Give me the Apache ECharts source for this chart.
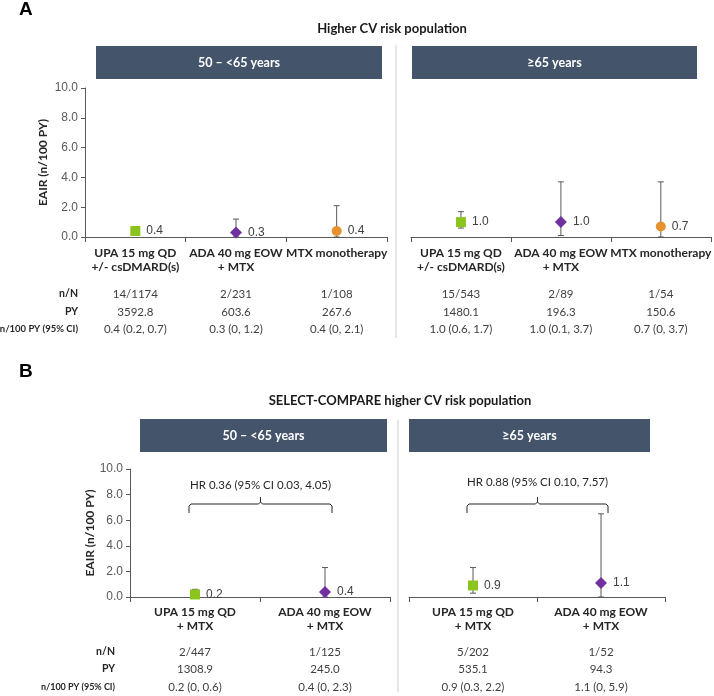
<!DOCTYPE html>
<html><head><meta charset="utf-8">
<script src="https://cdn.jsdelivr.net/npm/echarts@6/dist/echarts.min.js"></script>
<style>html,body{margin:0;padding:0;background:#fff}#c{width:714px;height:696px}</style>
</head><body><div id="c"></div>
<script>
// ---------- data ----------
const catsA = ['UPA 15 mg QD\n+/- csDMARD(s)', 'ADA 40 mg EOW\n+ MTX', 'MTX monotherapy'];
const catsB = ['UPA 15 mg QD\n+ MTX', 'ADA 40 mg EOW\n+ MTX'];
const yMin = 0, yMax = 10, yStep = 2;

const a1Value = [0.4, 0.3, 0.4];
const a1Low   = [0.2, 0.0, 0.0];
const a1High  = [0.7, 1.2, 2.1];
const a2Value = [1.0, 1.0, 0.7];
const a2Low   = [0.6, 0.1, 0.0];
const a2High  = [1.7, 3.7, 3.7];
const b1Value = [0.2, 0.4];
const b1Low   = [0.0, 0.0];
const b1High  = [0.6, 2.3];
const b2Value = [0.9, 1.1];
const b2Low   = [0.3, 0.0];
const b2High  = [2.3, 6.5];

const a1nN = ['14/1174', '2/231', '1/108'];
const a1PY = ['3592.8', '603.6', '267.6'];
const a1CI = ['0.4 (0.2, 0.7)', '0.3 (0, 1.2)', '0.4 (0, 2.1)'];
const a2nN = ['15/543', '2/89', '1/54'];
const a2PY = ['1480.1', '196.3', '150.6'];
const a2CI = ['1.0 (0.6, 1.7)', '1.0 (0.1, 3.7)', '0.7 (0, 3.7)'];
const b1nN = ['2/447', '1/125'];
const b1PY = ['1308.9', '245.0'];
const b1CI = ['0.2 (0, 0.6)', '0.4 (0, 2.3)'];
const b2nN = ['5/202', '1/52'];
const b2PY = ['535.1', '94.3'];
const b2CI = ['0.9 (0.3, 2.2)', '1.1 (0, 5.9)'];

const rowLabels = ['n/N', 'PY', 'n/100 PY (95% CI)'];
const titleA = 'Higher CV risk population';
const titleB = 'SELECT-COMPARE higher CV risk population';
const ageGroups = ['50 \u2013 <65 years', '\u226565 years'];
const hrB1 = 'HR 0.36 (95% CI 0.03, 4.05)';
const hrB2 = 'HR 0.88 (95% CI 0.10, 7.57)';
const yName = 'EAIR (n/100 PY)';

// ---------- style ----------
const SYM = ['rect', 'diamond', 'circle'];
const SYMSIZE = [10, 12, 10];
const COL = ['#8cc41e', '#7030a0', '#e8922f'];
const HEAD = '#44546a';
const AX = '#595959';
const NUMFONT = 'Liberation Sans';
const TXTFONT = 'Lato';

const grids = [
  {left: 85, top: 88, width: 302, height: 149},
  {left: 411, top: 88, width: 302, height: 149},
  {left: 130, top: 469, width: 260, height: 128},
  {left: 409, top: 469, width: 256, height: 128}
];
const panelCats = [catsA, catsA, catsB, catsB];
const panelVals = [a1Value, a2Value, b1Value, b2Value];
const panelLow = [a1Low, a2Low, b1Low, b2Low];
const panelHigh = [a1High, a2High, b1High, b2High];

const xAxes = panelCats.map((c, k) => ({
  type: 'category', gridIndex: k, data: c, boundaryGap: true,
  axisLine: {show: true, lineStyle: {color: AX, width: 1}},
  axisTick: {show: true, length: 5, lineStyle: {color: AX}},
  axisLabel: {interval: 0, margin: k < 2 ? 9 : 8, fontFamily: TXTFONT, fontWeight: 'bold',
    fontSize: 12, color: '#262626', lineHeight: 14},
  splitLine: {show: false}
}));
const yAxes = panelCats.map((c, k) => ({
  type: 'value', gridIndex: k, min: yMin, max: yMax, interval: yStep,
  show: k === 0 || k === 2,
  name: yName, nameLocation: 'middle', nameRotate: 90, nameGap: k === 0 ? 36 : 34,
  nameTextStyle: {fontFamily: TXTFONT, fontWeight: 'bold', fontSize: 12, color: '#262626'},
  axisLine: {show: true, lineStyle: {color: AX}},
  axisTick: {show: true, length: 4, lineStyle: {color: AX}},
  axisLabel: {formatter: v => v.toFixed(1), margin: 7, fontFamily: NUMFONT, fontSize: 12, color: AX},
  splitLine: {show: false}
}));

const series = [];
panelVals.forEach((vals, k) => {
  series.push({
    type: 'custom', xAxisIndex: k, yAxisIndex: k, z: 2,
    data: vals.map((v, i) => [i, panelLow[k][i], panelHigh[k][i]]),
    encode: {x: 0, y: [1, 2]},
    renderItem: (params, api) => {
      const lo = api.coord([api.value(0), api.value(1)]);
      const hi = api.coord([api.value(0), api.value(2)]);
      const st = {stroke: AX, lineWidth: 1};
      return {type: 'group', children: [
        {type: 'line', shape: {x1: lo[0], y1: lo[1], x2: hi[0], y2: hi[1]}, style: st},
        {type: 'line', shape: {x1: hi[0] - 3, y1: hi[1], x2: hi[0] + 3, y2: hi[1]}, style: st},
        {type: 'line', shape: {x1: lo[0] - 3, y1: lo[1], x2: lo[0] + 3, y2: lo[1]}, style: st}
      ]};
    }
  });
  series.push({
    type: 'scatter', xAxisIndex: k, yAxisIndex: k, z: 5,
    data: vals.map((v, i) => ({value: v, symbol: SYM[i], symbolSize: SYMSIZE[i], itemStyle: {color: COL[i], opacity: 1}})),
    label: {show: true, position: 'right', distance: 6, formatter: p => p.value.toFixed(1),
      fontFamily: NUMFONT, fontSize: 12, color: '#404040'}
  });
});

const chart = echarts.init(document.getElementById('c'), null, {renderer: 'canvas'});
chart.setOption({
  animation: false,
  backgroundColor: '#fff',
  grid: grids.map(g => Object.assign({containLabel: false}, g)),
  xAxis: xAxes, yAxis: yAxes, series: series
});

// ---------- graphic decorations ----------
const g = [];
function txt(text, x, y, o) {
  g.push({type: 'text', silent: true, z: 10, style: Object.assign({text, x, y, align: 'center', verticalAlign: 'middle',
    fontFamily: TXTFONT, fontSize: 11, fill: '#404040'}, o || {})});
}
// panel letters
txt('A', 19, 10, {align: 'left', fontSize: 19, fontWeight: 'bold', fill: '#000', fontFamily: 'Liberation Sans'});
txt('B', 19, 372, {align: 'left', fontSize: 19, fontWeight: 'bold', fill: '#000', fontFamily: 'Liberation Sans'});
// titles
txt(titleA, 392, 29, {fontSize: 13, fontWeight: 'bold', fill: '#1a1a1a'});
txt(titleB, 400, 401, {fontSize: 13, fontWeight: 'bold', fill: '#1a1a1a'});
// header boxes
const heads = [[96, 46, 286, 33], [412, 46, 285, 33], [140, 419, 247, 33], [409, 419, 241, 33]];
heads.forEach((h, k) => {
  g.push({type: 'rect', silent: true, z: 5, shape: {x: h[0], y: h[1], width: h[2], height: h[3]}, style: {fill: HEAD}});
  txt(ageGroups[k % 2], h[0] + h[2] / 2, h[1] + h[3] / 2, {fontSize: 12.5, fontWeight: 'bold', fill: '#fff'});
});
// dividers
g.push({type: 'line', silent: true, shape: {x1: 396, y1: 45, x2: 396, y2: 338}, style: {stroke: '#cfcfcf', lineWidth: 1}});
g.push({type: 'line', silent: true, shape: {x1: 398, y1: 420, x2: 398, y2: 692}, style: {stroke: '#cfcfcf', lineWidth: 1}});

// tables
const tables = [[a1nN, a1PY, a1CI], [a2nN, a2PY, a2CI], [b1nN, b1PY, b1CI], [b2nN, b2PY, b2CI]];
const rowY = [[294, 312, 329], [294, 312, 329], [652, 669, 687], [652, 669, 687]];
tables.forEach((rows, k) => {
  rows.forEach((row, r) => {
    row.forEach((s, i) => {
      const x = chart.convertToPixel({xAxisIndex: k}, i);
      txt(s, x, rowY[k][r], {fontSize: 11.5});
    });
  });
});
rowLabels.forEach((s, r) => {
  txt(s, 78, rowY[0][r], {align: 'right', fontWeight: 'bold', fontSize: r === 2 ? 9.5 : 10.5, fill: '#262626'});
  txt(s, 115, rowY[2][r], {align: 'right', fontWeight: 'bold', fontSize: r === 2 ? 9 : 10.5, fill: '#262626'});
});

// HR brackets
[[2, hrB1, 485], [3, hrB2, 482]].forEach(([k, label, ty]) => {
  const x1 = chart.convertToPixel({xAxisIndex: k}, 0) - 6;
  const x2 = chart.convertToPixel({xAxisIndex: k}, 1) + 7;
  const xm = (x1 + x2) / 2;
  const yh = 504;
  g.push({type: 'polyline', silent: true, z: 10, shape: {points: [
    [x1, yh + 9], [x1, yh + 2], [x1 + 2, yh], [xm - 2, yh], [xm, yh - 2], [xm, yh - 7], [xm, yh - 2], [xm + 2, yh], [x2 - 2, yh], [x2, yh + 2], [x2, yh + 9]
  ]}, style: {stroke: '#262626', lineWidth: 1, fill: null}});
  txt(label, xm, ty, {fontSize: 11.5, fill: '#262626'});
});

chart.setOption({graphic: {elements: g}});
</script>
</body></html>
